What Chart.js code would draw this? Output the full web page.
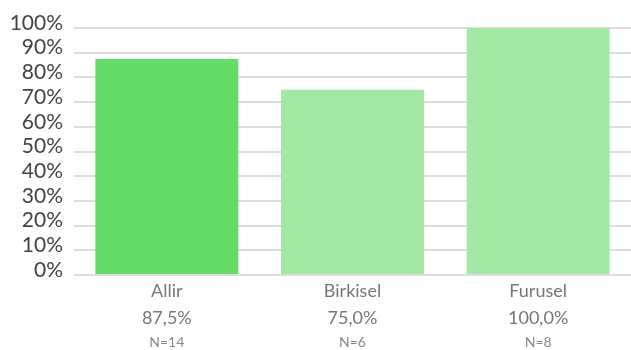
<!DOCTYPE html>
<html>
<head>
<meta charset="utf-8">
<script src="https://cdn.jsdelivr.net/npm/chart.js@4/dist/chart.umd.min.js"></script>
<style>
  html, body { margin: 0; padding: 0; background: #fff; }
  .box { width: 631px; height: 350px; position: relative; }
</style>
</head>
<body>
<div class="box"><canvas id="chart"></canvas></div>
<script>
// categories and values
const categories = ['Allir', 'Birkisel', 'Furusel'];
const shares     = [87.5, 75.0, 100.0];
const counts     = [14, 6, 8];
const barColors  = ['#67db69', '#a3e8a5', '#a3e8a5'];
const yTicks     = [0, 10, 20, 30, 40, 50, 60, 70, 80, 90, 100];

const FONT = 'Lato, "Noto Sans", sans-serif';
const pct = v => v.toFixed(1).replace('.', ',') + '%';

// draws the y tick labels and the three-line category labels
const labelPlugin = {
  id: 'labels',
  afterDraw(chart) {
    const { ctx, scales: { x, y } } = chart;
    ctx.save();
    ctx.fillStyle = '#444';
    ctx.font = `21px ${FONT}`;
    ctx.textAlign = 'right';
    ctx.textBaseline = 'middle';
    yTicks.forEach(v => ctx.fillText(v + '%', 63, y.getPixelForValue(v) - 5));

    ctx.textAlign = 'center';
    categories.forEach((c, i) => {
      const cx = x.getPixelForValue(i);
      ctx.fillStyle = '#777';
      ctx.font = `18px ${FONT}`;
      ctx.fillText(c, cx, 291);
      ctx.fillText(pct(shares[i]), cx, 318);
      ctx.font = `14px ${FONT}`;
      ctx.fillStyle = '#888';
      ctx.fillText('N=' + counts[i], cx, 342);
    });
    ctx.restore();
  }
};

new Chart(document.getElementById('chart').getContext('2d'), {
  type: 'bar',
  data: {
    labels: categories,
    datasets: [{
      data: shares,
      backgroundColor: barColors,
      borderWidth: 0,
      categoryPercentage: 1,
      barPercentage: 0.77
    }]
  },
  options: {
    responsive: true,
    maintainAspectRatio: false,
    animation: false,
    layout: { padding: { top: 28, right: 0, left: 0, bottom: 0 } },
    plugins: { legend: { display: false }, tooltip: { enabled: false } },
    scales: {
      x: {
        grid: { display: false },
        border: { display: false },
        ticks: { display: false },
        afterFit(s) { s.height = 75; }
      },
      y: {
        min: 0, max: 100,
        ticks: { display: false, stepSize: 10 },
        grid: { color: '#dddddd', lineWidth: 2, drawTicks: false },
        border: { display: false },
        afterFit(s) { s.width = 74; }
      }
    }
  },
  plugins: [labelPlugin]
});
</script>
</body>
</html>
